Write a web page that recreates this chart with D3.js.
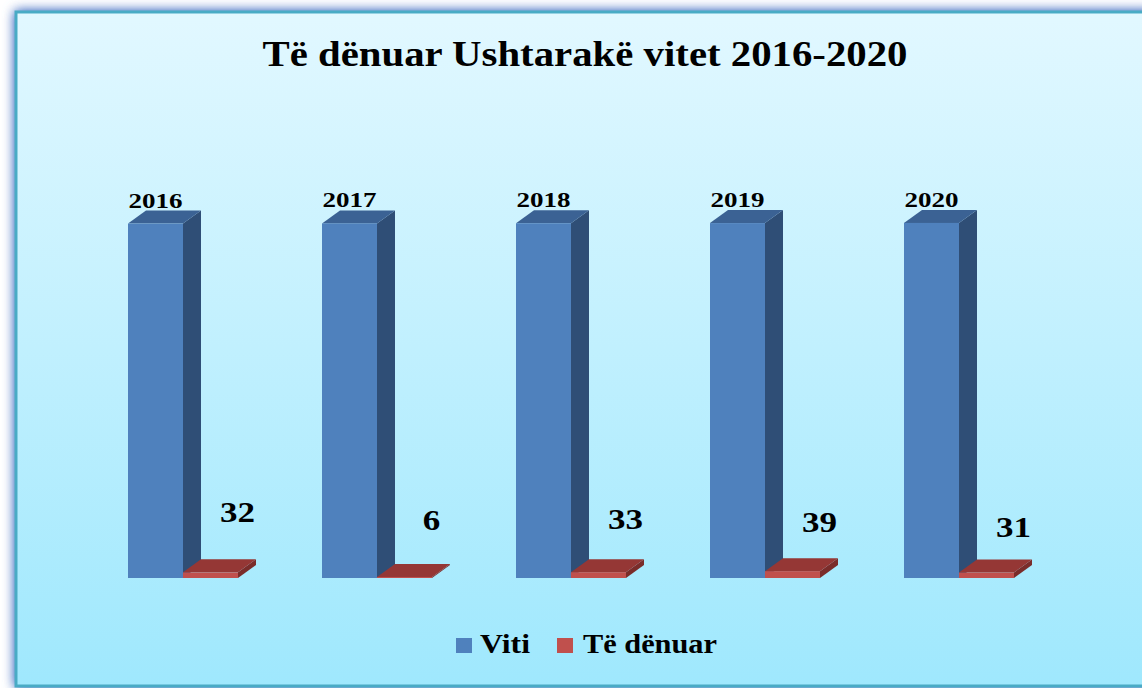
<!DOCTYPE html>
<html>
<head>
<meta charset="utf-8">
<script src="https://cdn.jsdelivr.net/npm/d3@7"></script>
<style>
  html, body { margin: 0; padding: 0; background: #ffffff; }
  svg { display: block; }
  text { font-family: "Liberation Serif", "Times New Roman", serif; font-weight: bold; fill: #000; }
</style>
</head>
<body>
<div id="chart"></div>
<script>
// Të dhënat
const years = ['2016', '2017', '2018', '2019', '2020'];
const series = ['Viti', 'Të dënuar'];
const vitiValues = [2016, 2017, 2018, 2019, 2020];
const denuarValues = [32, 6, 33, 39, 31];
const chartTitle = 'Të dënuar Ushtarakë vitet 2016-2020';

const width = 1142, height = 688;
const baseY = 578;
const depthX = 18, depthY = -13;

const colors = {
    'Viti': { front: '#4f81bd', top: '#3b6294', side: '#2f4e76' },
    'Të dënuar': { front: '#c0504d', top: '#953735', side: '#7a2c2a' }
};

const svg = d3.select('#chart').append('svg')
    .attr('width', width)
    .attr('height', height);

const defs = svg.append('defs');

// sfondi me gradient
const bg = defs.append('linearGradient').attr('id', 'bg-grad')
    .attr('x1', 0).attr('y1', 0).attr('x2', 0).attr('y2', 1);
bg.append('stop').attr('offset', '0%').attr('stop-color', '#e2f8ff');
bg.append('stop').attr('offset', '100%').attr('stop-color', '#9fe8fd');

const glow = defs.append('filter').attr('id', 'glow')
    .attr('x', '-5%').attr('y', '-5%').attr('width', '110%').attr('height', '110%');
glow.append('feGaussianBlur').attr('in', 'SourceAlpha').attr('stdDeviation', 6).attr('result', 'blur');
glow.append('feFlood').attr('flood-color', '#6c8ed0').attr('result', 'col');
glow.append('feComposite').attr('in', 'col').attr('in2', 'blur').attr('operator', 'in').attr('result', 'shadow');
glow.append('feComponentTransfer').attr('in', 'shadow').attr('result', 'shadow2')
    .append('feFuncA').attr('type', 'linear').attr('slope', 1.6);
const merge = glow.append('feMerge');
merge.append('feMergeNode').attr('in', 'shadow2');
merge.append('feMergeNode').attr('in', 'SourceGraphic');

svg.append('rect')
    .attr('x', 16).attr('y', 12)
    .attr('width', width + 20).attr('height', height - 14)
    .attr('fill', 'url(#bg-grad)')
    .attr('stroke', '#4aabc5')
    .attr('stroke-width', 3)
    .attr('filter', 'url(#glow)');

// shkallët
const x0 = d3.scaleBand()
    .domain(years)
    .range([31, 31 + 194 * 5.567])
    .paddingInner(0.433)
    .paddingOuter(0.5);

const x1 = d3.scaleBand()
    .domain(series)
    .range([0, x0.bandwidth()])
    .padding(0);

const y = d3.scaleLinear()
    .domain([0, 2500])
    .range([baseY, baseY - 354.4 * 2500 / 2016]);

const data = years.map((yr, i) => ({
    year: yr,
    values: [
        { key: 'Viti', value: vitiValues[i] },
        { key: 'Të dënuar', value: denuarValues[i] }
    ]
}));

function drawBar(g, x, w, yTop, c) {
    // ana e djathtë
    g.append('polygon')
        .attr('points', [
            [x + w, yTop], [x + w + depthX, yTop + depthY],
            [x + w + depthX, baseY + depthY], [x + w, baseY]
        ].map(p => p.join(',')).join(' '))
        .attr('fill', c.side);
    // pjesa e sipërme
    g.append('polygon')
        .attr('points', [
            [x, yTop], [x + depthX, yTop + depthY],
            [x + w + depthX, yTop + depthY], [x + w, yTop]
        ].map(p => p.join(',')).join(' '))
        .attr('fill', c.top);
    // faqja e përparme
    g.append('rect')
        .attr('x', x).attr('y', yTop)
        .attr('width', w).attr('height', baseY - yTop)
        .attr('fill', c.front);
}

const groups = svg.append('g').selectAll('g')
    .data(data)
    .join('g');

groups.each(function(d, i) {
    const g = d3.select(this);
    const gx = x0(d.year);
    d.values.forEach(v => {
        drawBar(g, gx + x1(v.key), x1.bandwidth(), y(v.value), colors[v.key]);
    });

    // etiketa e vitit
    const vx = gx + x1('Viti') + x1.bandwidth() / 2;
    g.append('text')
        .attr('x', vx)
        .attr('y', y(d.values[0].value) - 16)
        .attr('text-anchor', 'middle')
        .attr('font-size', 21)
        .attr('textLength', 54)
        .attr('lengthAdjust', 'spacingAndGlyphs')
        .text(d.values[0].value);

    // etiketa e të dënuarve
    const rx = gx + x1('Të dënuar') + x1.bandwidth() / 2 + 27;
    const label = String(d.values[1].value);
    g.append('text')
        .attr('x', rx)
        .attr('y', y(d.values[1].value) - 50 + i * 3.5)
        .attr('text-anchor', 'middle')
        .attr('font-size', 30)
        .attr('textLength', label.length * 17.5)
        .attr('lengthAdjust', 'spacingAndGlyphs')
        .text(label);
});

// titulli
svg.append('text')
    .attr('x', 585)
    .attr('y', 66)
    .attr('text-anchor', 'middle')
    .attr('font-size', 35)
    .attr('textLength', 645)
    .attr('lengthAdjust', 'spacingAndGlyphs')
    .text(chartTitle);

// legjenda
const legend = svg.append('g');
const legendItems = [
    { key: 'Viti', x: 456, tx: 480, len: 50 },
    { key: 'Të dënuar', x: 557, tx: 583, len: 134 }
];
legendItems.forEach(it => {
    legend.append('rect')
        .attr('x', it.x).attr('y', 638)
        .attr('width', 16).attr('height', 15)
        .attr('fill', colors[it.key].front);
    legend.append('text')
        .attr('x', it.tx).attr('y', 653)
        .attr('font-size', 27)
        .attr('textLength', it.len)
        .attr('lengthAdjust', 'spacingAndGlyphs')
        .text(it.key);
});
</script>
</body>
</html>
